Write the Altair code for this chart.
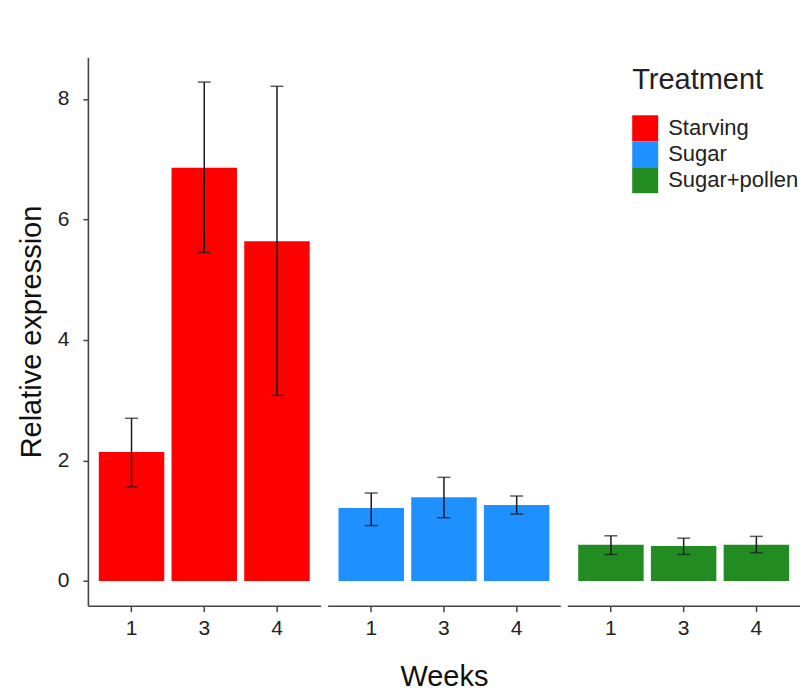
import altair as alt
import pandas as pd

weeks = ["1", "3", "4"]
treatments = ["Starving", "Sugar", "Sugar+pollen"]
colors = ["#FF0000", "#1E90FF", "#228B22"]

starving_mean = [2.14, 6.86, 5.64]
starving_lo = [1.56, 5.45, 3.08]
starving_hi = [2.70, 8.28, 8.21]

sugar_mean = [1.21, 1.39, 1.26]
sugar_lo = [0.92, 1.05, 1.11]
sugar_hi = [1.46, 1.72, 1.41]

pollen_mean = [0.60, 0.58, 0.60]
pollen_lo = [0.44, 0.44, 0.47]
pollen_hi = [0.75, 0.71, 0.74]

rows = []
for t, ms, los, his in zip(
    treatments,
    [starving_mean, sugar_mean, pollen_mean],
    [starving_lo, sugar_lo, pollen_lo],
    [starving_hi, sugar_hi, pollen_hi],
):
    for w, m, lo, hi in zip(weeks, ms, los, his):
        rows.append({"Treatment": t, "Week": w, "mean": m, "lo": lo, "hi": hi})
df = pd.DataFrame(rows)

FONT = "Liberation Sans"
YTITLE = "Relative expression"

x_enc = alt.X(
    "Week:N",
    sort=weeks,
    title=None,
    scale=alt.Scale(paddingInner=0.1, paddingOuter=0.15),
    axis=alt.Axis(labelAngle=0, labelPadding=6, tickSize=6),
)
y_scale = alt.Scale(domain=[-0.41, 8.69], nice=False, zero=False)
y_axis = alt.Axis(values=[0, 2, 4, 6, 8], format="d", grid=False, tickSize=5,
                  labelPadding=14, titlePadding=11)

bars = alt.Chart().mark_bar().encode(
    x=x_enc,
    y=alt.Y("mean:Q", title=YTITLE, scale=y_scale, axis=y_axis),
    y2=alt.datum(0),
    color=alt.Color(
        "Treatment:N",
        scale=alt.Scale(domain=treatments, range=colors),
        legend=alt.Legend(
            title="Treatment",
            orient="none",
            legendX=545,
            legendY=9,
            symbolType="square",
            symbolSize=676,
            symbolStrokeWidth=0,
            rowPadding=0,
            labelOffset=10,
            titlePadding=20,
            labelFontSize=22,
            titleFontSize=29,
            titleFontWeight="normal",
            labelFont=FONT,
            titleFont=FONT,
            labelColor="#222222",
            titleColor="#222222",
        ),
    ),
)

rule = alt.Chart().mark_rule(color="#1a1a1a", strokeWidth=1.5).encode(
    x=alt.X("Week:N", sort=weeks),
    y=alt.Y("lo:Q", title=YTITLE, scale=y_scale),
    y2="hi:Q",
)
cap_lo = alt.Chart().mark_tick(color="#1a1a1a", size=13, thickness=1.5).encode(
    x=alt.X("Week:N", sort=weeks),
    y=alt.Y("lo:Q", title=YTITLE, scale=y_scale),
)
cap_hi = alt.Chart().mark_tick(color="#1a1a1a", size=13, thickness=1.5).encode(
    x=alt.X("Week:N", sort=weeks),
    y=alt.Y("hi:Q", title=YTITLE, scale=y_scale),
)

layer = alt.layer(bars, rule, cap_lo, cap_hi, data=df).properties(width=233, height=549)

chart = (
    layer.facet(
        column=alt.Column(
            "Treatment:N",
            sort=treatments,
            header=alt.Header(
                labels=False,
                title="Weeks",
                titleOrient="bottom",
                titleFontSize=29,
                titleFont=FONT,
                titleFontWeight="normal",
                titleColor="#111111",
                titlePadding=14,
            ),
        ),
        spacing=7,
    )
    .properties(padding={"left": 9, "top": 49, "right": 0, "bottom": 0})
    .configure_view(stroke=None)
    .configure_axis(
        domainColor="#444444",
        domainWidth=1.6,
        tickColor="#444444",
        tickWidth=1.5,
        labelFont=FONT,
        labelFontSize=21,
        labelColor="#222222",
        titleFont=FONT,
        titleFontSize=29,
        titleFontWeight="normal",
        titleColor="#111111",
    )
)

chart.save("out.html", embed_options={"renderer": "svg", "actions": False})
